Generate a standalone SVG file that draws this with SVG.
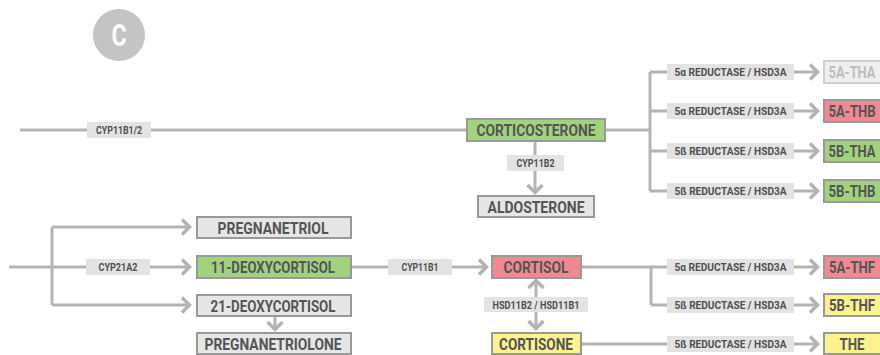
<svg xmlns="http://www.w3.org/2000/svg" width="880" height="355" viewBox="0 0 880 355">
<defs>
<style>
.ln{fill:none;stroke:#b3b3b3;stroke-width:3}
.ar{marker-end:url(#ah)}
.da{marker-start:url(#ah);marker-end:url(#ah)}
.lb{fill:#e3e3e3}
.lt{font-family:Roboto,"DejaVu Sans",sans-serif;font-weight:700;font-size:11.5px;fill:#505050;text-anchor:middle}
.bx{stroke:#999;stroke-width:2}
.gr{fill:#e6e6e6}
.gn{fill:#a3d27f}
.rd{fill:#f08a92}
.ye{fill:#fcf28f}
.fd{fill:#efefef;stroke:#cfcfcf;stroke-width:2}
.bt{font-family:Roboto,"DejaVu Sans",sans-serif;font-weight:700;font-size:17px;fill:#555;text-anchor:middle}
.ft{fill:#bdbdbd}
</style>
<marker id="ah" markerUnits="userSpaceOnUse" viewBox="0 0 16 20" markerWidth="16" markerHeight="20" refX="12" refY="10" orient="auto-start-reverse">
<path d="M4,2.5 L11.5,10 L4,17.5" fill="none" stroke="#b3b3b3" stroke-width="3.5"/>
</marker>
</defs>
<rect width="880" height="355" fill="#fff"/>

<g id="badge">
<circle cx="119" cy="35" r="26" fill="#c4c4c4"/>
<text x="119" y="46" font-family="Roboto,'DejaVu Sans',sans-serif" font-weight="700" font-size="31" fill="#fff" text-anchor="middle" textLength="15" lengthAdjust="spacingAndGlyphs">C</text>
</g>

<g id="connectors">
<path class="ln" d="M20,130 H467"/>
<path class="ln" d="M605,130 H650 M650,72 V191"/>
<path class="ln ar" d="M650,72 H818"/>
<path class="ln ar" d="M650,111 H818"/>
<path class="ln ar" d="M650,151 H818"/>
<path class="ln ar" d="M650,191 H818"/>
<path class="ln ar" d="M535,141 V193"/>
<path class="ln" d="M52,227 V305"/>
<path class="ln ar" d="M9,267 H190"/>
<path class="ln ar" d="M52,227 H190"/>
<path class="ln ar" d="M52,305 H190"/>
<path class="ln ar" d="M275,316 V330"/>
<path class="ln ar" d="M351,267 H487"/>
<path class="ln da" d="M536,280 V329"/>
<path class="ln" d="M581,267 H651 V305"/>
<path class="ln ar" d="M651,267 H818"/>
<path class="ln ar" d="M651,305 H818"/>
<path class="ln ar" d="M581,344 H818"/>
</g>

<g id="enzyme-labels">
<rect class="lb" x="87" y="122" width="64" height="16"/>
<text class="lt" x="119" y="134" textLength="46" lengthAdjust="spacingAndGlyphs">CYP11B1/2</text>
<rect class="lb" x="507" y="155" width="57" height="16"/>
<text class="lt" x="535.5" y="167" textLength="38" lengthAdjust="spacingAndGlyphs">CYP11B2</text>
<rect class="lb" x="667" y="64" width="127" height="16"/>
<text class="lt" x="730.5" y="76" textLength="112" lengthAdjust="spacingAndGlyphs">5α REDUCTASE / HSD3A</text>
<rect class="lb" x="667" y="103" width="127" height="16"/>
<text class="lt" x="730.5" y="115" textLength="112" lengthAdjust="spacingAndGlyphs">5α REDUCTASE / HSD3A</text>
<rect class="lb" x="667" y="143" width="127" height="16"/>
<text class="lt" x="730.5" y="155" textLength="112" lengthAdjust="spacingAndGlyphs">5ß REDUCTASE / HSD3A</text>
<rect class="lb" x="667" y="183" width="127" height="16"/>
<text class="lt" x="730.5" y="195" textLength="112" lengthAdjust="spacingAndGlyphs">5ß REDUCTASE / HSD3A</text>
<rect class="lb" x="86" y="259" width="64" height="16"/>
<text class="lt" x="118" y="271" textLength="39" lengthAdjust="spacingAndGlyphs">CYP21A2</text>
<rect class="lb" x="388" y="259" width="64" height="16"/>
<text class="lt" x="420" y="271" textLength="37" lengthAdjust="spacingAndGlyphs">CYP11B1</text>
<rect class="lb" x="484" y="297" width="104" height="15"/>
<text class="lt" x="536" y="308.5" textLength="87" lengthAdjust="spacingAndGlyphs">HSD11B2 / HSD11B1</text>
<rect class="lb" x="667" y="259" width="127" height="16"/>
<text class="lt" x="730.5" y="271" textLength="112" lengthAdjust="spacingAndGlyphs">5α REDUCTASE / HSD3A</text>
<rect class="lb" x="667" y="297" width="127" height="16"/>
<text class="lt" x="730.5" y="309" textLength="112" lengthAdjust="spacingAndGlyphs">5ß REDUCTASE / HSD3A</text>
<rect class="lb" x="667" y="336" width="127" height="16"/>
<text class="lt" x="730.5" y="348" textLength="112" lengthAdjust="spacingAndGlyphs">5ß REDUCTASE / HSD3A</text>
</g>

<g id="corticosterone"><rect class="bx gn" x="467" y="119" width="138" height="22"/><text class="bt" x="536" y="136" textLength="119" lengthAdjust="spacingAndGlyphs">CORTICOSTERONE</text></g>
<g id="aldosterone"><rect class="bx gr" x="478" y="196" width="116" height="21"/><text class="bt" x="536" y="212.5" textLength="97" lengthAdjust="spacingAndGlyphs">ALDOSTERONE</text></g>
<g id="5a-tha"><rect class="fd" x="824" y="61" width="60" height="22"/><text class="bt ft" x="852" y="78" textLength="47" lengthAdjust="spacingAndGlyphs">5A-THA</text></g>
<g id="5a-thb"><rect class="bx rd" x="824" y="100" width="60" height="22"/><text class="bt" x="852" y="117" textLength="47" lengthAdjust="spacingAndGlyphs">5A-THB</text></g>
<g id="5b-tha"><rect class="bx gn" x="824" y="140" width="60" height="22"/><text class="bt" x="852" y="157" textLength="47" lengthAdjust="spacingAndGlyphs">5B-THA</text></g>
<g id="5b-thb"><rect class="bx gn" x="824" y="180" width="60" height="22"/><text class="bt" x="852" y="197" textLength="47" lengthAdjust="spacingAndGlyphs">5B-THB</text></g>
<g id="pregnanetriol"><rect class="bx gr" x="197" y="217" width="154" height="21"/><text class="bt" x="273" y="233.5" textLength="111" lengthAdjust="spacingAndGlyphs">PREGNANETRIOL</text></g>
<g id="deoxycortisol-11"><rect class="bx gn" x="197" y="256" width="154" height="22"/><text class="bt" x="273" y="273" textLength="124" lengthAdjust="spacingAndGlyphs">11-DEOXYCORTISOL</text></g>
<g id="deoxycortisol-21"><rect class="bx gr" x="197" y="295" width="154" height="21"/><text class="bt" x="273" y="311.5" textLength="125" lengthAdjust="spacingAndGlyphs">21-DEOXYCORTISOL</text></g>
<g id="pregnanetriolone"><rect class="bx gr" x="197" y="333" width="154" height="21"/><text class="bt" x="273" y="349.5" textLength="137" lengthAdjust="spacingAndGlyphs">PREGNANETRIOLONE</text></g>
<g id="cortisol"><rect class="bx rd" x="492" y="256" width="89" height="22"/><text class="bt" x="536" y="273" textLength="65" lengthAdjust="spacingAndGlyphs">CORTISOL</text></g>
<g id="cortisone"><rect class="bx ye" x="492" y="333" width="89" height="21"/><text class="bt" x="536" y="349.5" textLength="74" lengthAdjust="spacingAndGlyphs">CORTISONE</text></g>
<g id="5a-thf"><rect class="bx rd" x="824" y="256" width="60" height="22"/><text class="bt" x="852" y="273" textLength="46" lengthAdjust="spacingAndGlyphs">5A-THF</text></g>
<g id="5b-thf"><rect class="bx ye" x="824" y="294" width="60" height="22"/><text class="bt" x="852" y="311" textLength="46" lengthAdjust="spacingAndGlyphs">5B-THF</text></g>
<g id="the"><rect class="bx ye" x="824" y="333" width="60" height="21"/><text class="bt" x="852" y="349.5" textLength="25" lengthAdjust="spacingAndGlyphs">THE</text></g>
</svg>
